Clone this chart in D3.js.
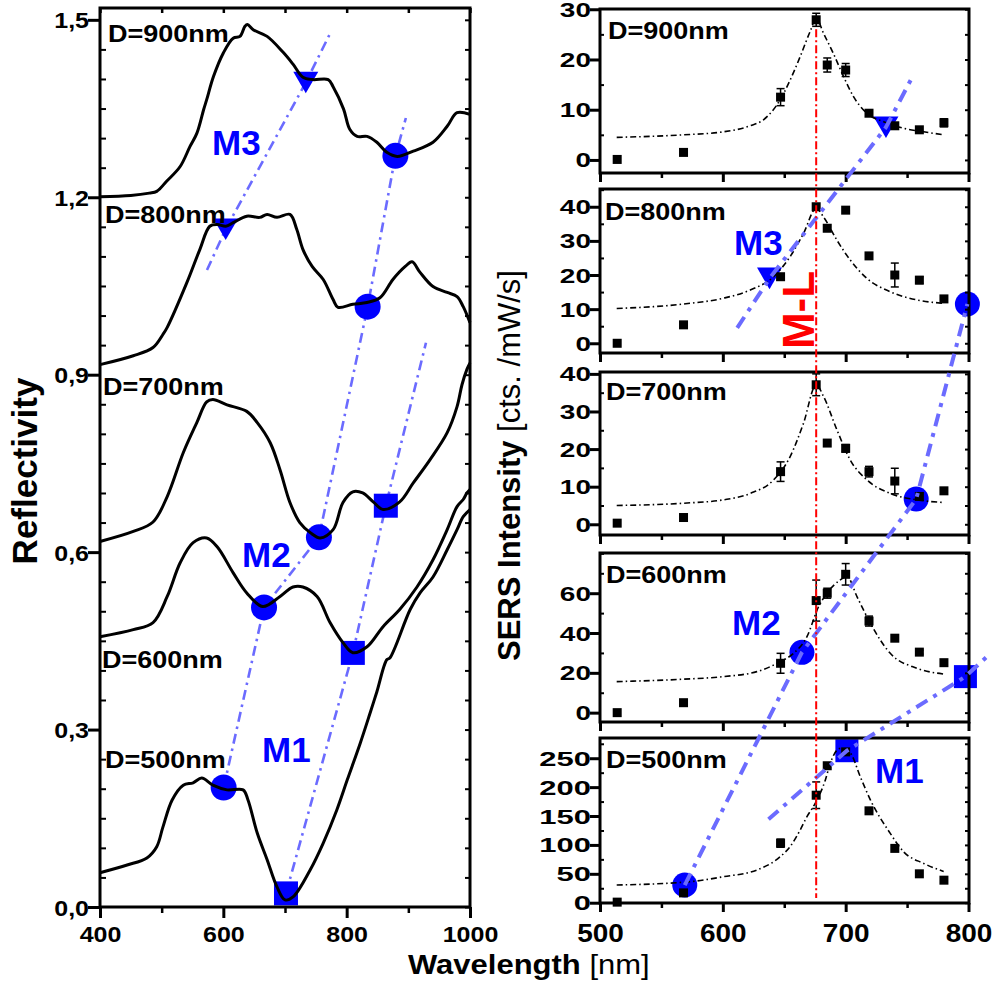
<!DOCTYPE html>
<html>
<head>
<meta charset="utf-8">
<script src="https://cdn.jsdelivr.net/npm/d3@7"></script>
<style>
body { margin: 0; background: #fff; }
svg { display: block; }
text { font-family: "Liberation Sans", Arial, sans-serif; font-weight: bold; }
</style>
</head>
<body>
<div id="chart"></div>
<script>
// ---- data: reflectivity spectra (left) ----
const refl900 = [[400,1.201],[450,1.203],[480,1.207],[492,1.210],[508,1.227],[530,1.252],[546,1.286],[557,1.308],[568,1.348],[573,1.365],[584,1.404],[600,1.444],[616,1.469],[627,1.472],[635,1.489],[639,1.492],[649,1.483],[671,1.472],[697,1.445],[713,1.425],[729,1.403],[745,1.399],[770,1.399],[778,1.387],[795,1.349],[805,1.315],[817,1.303],[833,1.303],[849,1.293],[865,1.276],[882,1.269],[908,1.278],[940,1.293],[963,1.320],[979,1.343],[1000,1.340]];
const refl800 = [[400,0.917],[454,0.932],[486,0.946],[502,0.968],[509,0.980],[541,1.056],[562,1.112],[578,1.151],[590,1.154],[604,1.151],[616,1.157],[638,1.168],[659,1.166],[671,1.171],[687,1.166],[708,1.171],[719,1.146],[729,1.112],[744,1.083],[762,1.061],[778,1.027],[786,1.014],[810,1.019],[833,1.022],[854,1.030],[875,1.061],[895,1.083],[906,1.091],[919,1.073],[940,1.049],[963,1.039],[979,1.032],[989,1.015],[1000,0.988]];
const refl700 = [[400,0.618],[454,0.635],[486,0.651],[509,0.694],[535,0.768],[557,0.819],[573,0.854],[583,0.858],[606,0.849],[638,0.838],[655,0.819],[676,0.785],[692,0.739],[708,0.684],[724,0.650],[741,0.633],[757,0.624],[778,0.638],[794,0.684],[810,0.702],[826,0.700],[843,0.685],[859,0.672],[886,0.685],[908,0.717],[935,0.756],[963,0.802],[979,0.846],[987,0.883],[995,0.909],[1000,0.920]];
const refl600 = [[400,0.457],[454,0.469],[486,0.481],[509,0.525],[530,0.582],[551,0.616],[573,0.624],[590,0.609],[616,0.565],[638,0.531],[664,0.508],[692,0.525],[713,0.541],[729,0.541],[752,0.525],[773,0.481],[794,0.447],[810,0.430],[833,0.440],[859,0.474],[886,0.503],[914,0.541],[940,0.587],[963,0.638],[979,0.677],[989,0.689],[995,0.700],[1000,0.706]];
const refl500 = [[400,0.058],[444,0.071],[476,0.083],[492,0.102],[502,0.135],[517,0.181],[535,0.206],[551,0.210],[565,0.218],[583,0.206],[606,0.198],[632,0.198],[640,0.181],[655,0.125],[671,0.080],[687,0.034],[700,0.012],[713,0.017],[741,0.063],[762,0.108],[784,0.164],[801,0.215],[822,0.277],[838,0.328],[849,0.364],[865,0.418],[870,0.421],[903,0.503],[919,0.531],[940,0.558],[963,0.604],[979,0.638],[989,0.660],[1000,0.672]];
const reflSeries = [refl900, refl800, refl700, refl600, refl500];
const dLabels = ["D=900nm", "D=800nm", "D=700nm", "D=600nm", "D=500nm"];

const xTicksL = [400, 600, 800, 1000];
const xTickLabelsL = ["400", "600", "800", "1000"];
const yTicksL = [0, 0.3, 0.6, 0.9, 1.2, 1.5];
const yTickLabelsL = ["0,0", "0,3", "0,6", "0,9", "1,2", "1,5"];

// mode markers on the reflectivity curves [wavelength, R]
const circL = [[600.5,0.202],[666,0.5065],[755,0.625],[834,1.015],[879,1.270]];
const sqL = [[701.6,0.023],[810,0.4296],[863.5,0.6785]];
const triL = [[603.8,1.146],[733.7,1.394]];
const m1L = [[701.6,0.023],[810,0.4296],[863.5,0.6785],[928.6,0.954]];
const m2L = [[600.5,0.202],[666,0.5065],[755,0.625],[834,1.015],[879,1.270],[896,1.334]];
const m3L = [[573.5,1.077],[603.8,1.146],[733.7,1.394],[774.6,1.480]];

// ---- data: SERS intensity (right), panels top to bottom ----
const ramanWl = [514, 568, 647, 676, 685, 700, 719, 740, 760, 780];
const sers900 = [0.1, 1.5, 12.5, 27.9, 18.9, 17.9, 9.3, 6.8, 6.0, 7.4];
const err900  = [0, 0, 1.7, 1.3, 1.4, 1.3, 0, 0, 0, 0.8];
const sers800 = [0, 5.4, 19.5, 40, 33.7, 39, 25.6, 20, 18.5, 13];
const err800  = [0, 0, 0, 0, 0, 0, 0, 3.5, 1, 0];
const sers700 = [0.3, 1.8, 14, 37.1, 21.6, 20.2, 14, 11.5, 7.4, 8.9];
const err700  = [0, 0, 2.6, 2.9, 0, 1, 1.4, 3.4, 0, 0];
const sers600 = [0, 5.0, 24.8, 56.3, 60, 69.5, 46, 37.4, 30.4, 25.1];
const err600  = [0, 0, 5, 10.3, 2.5, 5.4, 2.5, 0, 1, 0];
const sers500 = [1, 17, 103, 186, 237, 261, 159, 94, 50, 39];
const err500  = [0, 0, 7, 23, 0, 5, 0, 0, 0, 0];

const fit900 = [[513.6,4.5],[567.9,5.0],[600.5,5.6],[622.3,6.8],[633.1,8.0],[646.7,12.0],[654.8,15.9],[663,20.6],[671.1,25.6],[676,28.2],[682,25.2],[690,21.2],[698.3,16.6],[706.4,12.6],[717.3,9.3],[731,7.6],[747.2,6.3],[763.5,5.6],[779.8,5.0]];
const fit800 = [[513.6,10.2],[567.9,11.5],[600.5,13.2],[622.3,15.6],[641.3,19.5],[654.8,25.4],[665.7,32.2],[676,39.5],[682,37],[692.9,30.2],[703.7,24.4],[717.3,19],[736.3,15.1],[758.1,12.7],[779.8,11.7]];
const fit700 = [[513.6,5.0],[567.9,5.6],[600.5,6.5],[622.3,8.2],[641.3,11.8],[654.8,18],[665.7,26.9],[676,37.1],[682,34],[692.9,25.1],[703.7,17.1],[717.3,11.8],[736.3,8.2],[758.1,6.5],[779.8,5.8]];
const fit600 = [[513.6,15.6],[567.9,16.8],[600.5,18.1],[627.7,20.6],[646.7,25.6],[657.6,29.8],[668.5,38.2],[678,53.3],[684.8,60],[695.6,66.7],[701.1,68.4],[709.2,58.3],[720.1,44.9],[736.3,29.8],[758.1,22.3],[779.8,19.4]];
const fit500 = [[513.6,30.6],[573.3,36.4],[600.5,45],[627.7,56.6],[646.7,79.6],[654.8,97],[663,126],[668.5,149],[675.2,172],[683.4,212],[687.4,241],[695.6,267],[703.7,259],[711.9,218],[720.1,178],[736.3,120],[747.2,88],[763.5,68],[779.8,54]];

const sersVals = [sers900, sers800, sers700, sers600, sers500];
const sersErrs = [err900, err800, err700, err600, err500];
const sersFits = [fit900, fit800, fit700, fit600, fit500];
const sersTicks = [[0,10,20,30],[0,10,20,30,40],[0,10,20,30,40],[0,20,40,60],[0,50,100,150,200,250]];
const sersMinorStep = [5, 5, 5, 10, 25];
const xTicksR = [500, 600, 700, 800];
const xMinorR = [550, 650, 750];

// markers in the SERS panels [wavelength, panel, value]
const circR = [[569,4,30.6],[664.4,3,30.3],[757.4,2,6.7],[799.1,1,11.5]];
const sqR = [[701,4,263],[797.5,3,18.1]];
const triR = [[638,1,19.0],[732.8,0,6.5]];
const m1R = [[637.2,4,144.4],[701,4,263],[797.5,3,18.1],[816.5,3,29]];
const m2R = [[569,4,30.6],[664.4,3,30.3],[757.4,2,6.7],[799.1,1,11.5]];
const m3R = [[611.7,1,4.5],[638,1,19.0],[732.8,0,6.5],[755.1,0,16.9]];
const mlWl = 676;
const mlRange = [[0, 26], [4, 8]];

// ---- layout ----
const svg = d3.select("#chart").append("svg").attr("width", 992).attr("height", 989);
const BLUE = "#0000ff", LBLUE = "#6b6bff", RED = "#ff0000";

const xL = d3.scaleLinear().domain([400, 1000]).range([100, 470]);
const yL = d3.scaleLinear().domain([0, 1.52]).range([907, 8]);
const xR = d3.scaleLinear().domain([500, 800]).range([600, 968.5]);

const panels = [
  {top: 9,   bottom: 173, dom: [-2.6, 30.05], fs: 28, sy: 0.7},
  {top: 189, bottom: 353, dom: [-2.85, 45.2], fs: 28, sy: 0.7},
  {top: 372, bottom: 535, dom: [-2.85, 40.5], fs: 28, sy: 0.7},
  {top: 553, bottom: 722, dom: [-4.7, 80.2],  fs: 28, sy: 0.7},
  {top: 738, bottom: 903, dom: [-0.5, 285],   fs: 31, sy: 0.63}
];
panels.forEach(p => p.y = d3.scaleLinear().domain(p.dom).range([p.bottom, p.top]));

function frame(g, x0, y0, x1, y1) {
  g.append("rect").attr("x", x0).attr("y", y0)
    .attr("width", x1 - x0).attr("height", y1 - y0)
    .attr("fill", "none").attr("stroke", "#000").attr("stroke-width", 3);
}

function axis(g, t, ax, w) {
  const a = g.append("g").attr("transform", t).call(ax);
  a.select(".domain").remove();
  a.selectAll(".tick line").attr("stroke", "#000").attr("stroke-width", w);
  return a;
}

function txt(g, x, y, s, fs, sy, anchor) {
  return g.append("text")
    .attr("transform", `translate(${x},${y}) scale(1,${sy})`)
    .attr("font-size", fs).attr("text-anchor", anchor || "start").text(s);
}

function minorVals(dom, step, majors) {
  return d3.range(Math.ceil(dom[0] / step) * step, dom[1] + 1e-9, step)
    .filter(v => !majors.some(m => Math.abs(m - v) < 1e-9));
}

// ===== left panel =====
const gL = svg.append("g");

axis(gL, "translate(0,907)", d3.axisBottom(xL).tickValues(xTicksL).tickSize(11)
    .tickFormat((d, i) => xTickLabelsL[i]), 3)
  .selectAll("text").attr("font-size", 25).attr("dy", 0)
  .attr("y", 35 / 0.9).attr("transform", "scale(1,0.9)");
axis(gL, "translate(0,907)", d3.axisBottom(xL).tickValues([500, 700, 900]).tickSize(6).tickFormat(""), 2.5);
axis(gL, "translate(0,8)", d3.axisTop(xL).tickValues(xTicksL.concat([500, 700, 900])).tickSize(-5).tickFormat(""), 2.5);

axis(gL, "translate(100,0)", d3.axisLeft(yL).tickValues(yTicksL).tickSize(12)
    .tickFormat((d, i) => yTickLabelsL[i]), 3)
  .selectAll("text").attr("font-size", 25).attr("x", -11).attr("dy", "0.36em")
  .attr("transform", "scale(1,0.9)");
axis(gL, "translate(100,0)", d3.axisLeft(yL).tickValues(minorVals([0, 1.52], 0.05, yTicksL)).tickSize(-6).tickFormat(""), 2);
axis(gL, "translate(470,0)", d3.axisRight(yL).tickValues(yTicksL.concat(minorVals([0, 1.52], 0.05, yTicksL))).tickSize(-5).tickFormat(""), 2);

// guide lines for the modes
const lineL = d3.line().x(d => xL(d[0])).y(d => yL(d[1]));
[m1L, m2L, m3L].forEach(m => {
  gL.append("path").attr("d", lineL(m)).attr("fill", "none")
    .attr("stroke", LBLUE).attr("stroke-width", 2.6)
    .attr("stroke-dasharray", "10,5,2.5,5");
});

// markers
const triSize = 270;
const triOff = Math.sqrt(triSize / (3 * Math.sqrt(3))) / 2;
gL.selectAll("circle.mk").data(circL).enter().append("circle")
  .attr("cx", d => xL(d[0])).attr("cy", d => yL(d[1])).attr("r", 13).attr("fill", BLUE);
gL.selectAll("rect.mk").data(sqL).enter().append("rect")
  .attr("x", d => xL(d[0]) - 12).attr("y", d => yL(d[1]) - 12)
  .attr("width", 24).attr("height", 24).attr("fill", BLUE);
gL.selectAll("path.tri").data(triL).enter().append("path")
  .attr("d", d3.symbol(d3.symbolTriangle, triSize))
  .attr("transform", d => `translate(${xL(d[0])},${yL(d[1]) - triOff}) rotate(180)`)
  .attr("fill", BLUE);

// spectra
const specLine = d3.line().x(d => xL(d[0])).y(d => yL(d[1])).curve(d3.curveCatmullRom);
reflSeries.forEach(s => {
  gL.append("path").attr("d", specLine(s)).attr("fill", "none")
    .attr("stroke", "#000").attr("stroke-width", 3).attr("stroke-linejoin", "round");
});

frame(gL, 100, 8, 470, 907);

const dPosL = [[108, 42], [105, 223], [103, 395], [102, 668], [105, 768]];
dLabels.forEach((s, i) => txt(gL, dPosL[i][0], dPosL[i][1], s, 27, 0.88));

const mPosL = [["M3", 212, 155], ["M2", 242, 567], ["M1", 262, 762]];
mPosL.forEach(m => txt(gL, m[1], m[2], m[0], 35, 1).attr("fill", BLUE));

gL.append("text").attr("transform", "translate(37,471) rotate(-90)")
  .attr("text-anchor", "middle").attr("font-size", 35).text("Reflectivity");

// ===== right panels =====
const gR = svg.append("g");
const pt = d => [xR(d[0]), panels[d[1]].y(d[2])];

// blue markers below the data
gR.selectAll("circle.mk").data(circR).enter().append("circle")
  .attr("cx", d => pt(d)[0]).attr("cy", d => pt(d)[1]).attr("r", 12.5).attr("fill", BLUE);
gR.selectAll("rect.mk").data(sqR).enter().append("rect")
  .attr("x", d => pt(d)[0] - 11.5).attr("y", d => pt(d)[1] - 11.5)
  .attr("width", 23).attr("height", 23).attr("fill", BLUE);
gR.selectAll("path.tri").data(triR).enter().append("path")
  .attr("d", d3.symbol(d3.symbolTriangle, triSize))
  .attr("transform", d => `translate(${pt(d)[0]},${pt(d)[1] - triOff}) rotate(180)`)
  .attr("fill", BLUE);

panels.forEach((p, i) => {
  const g = gR.append("g");
  const y = p.y;
  const ticks = sersTicks[i];

  const lab = axis(g, "translate(600,0)", d3.axisLeft(y).tickValues(ticks).tickSize(10), 3);
  lab.selectAll("text").attr("font-size", p.fs).attr("x", -9).attr("dy", "0.36em")
    .attr("transform", `scale(1,${p.sy})`);
  axis(g, "translate(600,0)", d3.axisLeft(y).tickValues(minorVals(p.dom, sersMinorStep[i], ticks)).tickSize(-4).tickFormat(""), 2);
  axis(g, "translate(969,0)", d3.axisRight(y).tickValues(ticks.concat(minorVals(p.dom, sersMinorStep[i], ticks))).tickSize(-4).tickFormat(""), 2);

  const bx = axis(g, `translate(0,${p.bottom})`, d3.axisBottom(xR).tickValues(xTicksR).tickSize(9)
    .tickFormat(i === 4 ? d3.format("d") : ""), 3);
  if (i === 4) {
    bx.selectAll("text").attr("font-size", 28).attr("dy", 0)
      .attr("y", 39 / 0.9).attr("transform", "scale(1,0.9)");
  }
  axis(g, `translate(0,${p.bottom})`, d3.axisBottom(xR).tickValues(xMinorR).tickSize(5).tickFormat(""), 2.5);

  // fit curve
  g.append("path")
    .attr("d", d3.line().x(d => xR(d[0])).y(d => y(d[1])).curve(d3.curveMonotoneX)(sersFits[i]))
    .attr("fill", "none").attr("stroke", "#000").attr("stroke-width", 1.6)
    .attr("stroke-dasharray", "6,3,1.5,3");

  // data with error bars
  const pts = ramanWl.map((w, k) => ({w, v: sersVals[i][k], e: sersErrs[i][k]}));
  const eb = g.selectAll("g.eb").data(pts.filter(d => d.e > 0)).enter().append("g")
    .attr("stroke", "#000").attr("stroke-width", 1.5);
  eb.append("line").attr("x1", d => xR(d.w)).attr("x2", d => xR(d.w))
    .attr("y1", d => y(d.v - d.e)).attr("y2", d => y(d.v + d.e));
  eb.append("line").attr("x1", d => xR(d.w) - 4).attr("x2", d => xR(d.w) + 4)
    .attr("y1", d => y(d.v + d.e)).attr("y2", d => y(d.v + d.e));
  eb.append("line").attr("x1", d => xR(d.w) - 4).attr("x2", d => xR(d.w) + 4)
    .attr("y1", d => y(d.v - d.e)).attr("y2", d => y(d.v - d.e));
  g.selectAll("rect.pt").data(pts).enter().append("rect")
    .attr("x", d => xR(d.w) - 4.5).attr("y", d => y(d.v) - 4.5)
    .attr("width", 9).attr("height", 9).attr("fill", "#000");

  frame(g, 600, p.top, 969, p.bottom);
});

// guide lines across panels
[m1R, m2R, m3R].forEach(m => {
  gR.append("path").attr("d", d3.line()(m.map(pt))).attr("fill", "none")
    .attr("stroke", LBLUE).attr("stroke-width", 4)
    .attr("stroke-dasharray", "13,7,4,7");
});

// M-L line
gR.append("line")
  .attr("x1", xR(mlWl)).attr("x2", xR(mlWl))
  .attr("y1", panels[mlRange[0][0]].y(mlRange[0][1]))
  .attr("y2", panels[mlRange[1][0]].y(mlRange[1][1]))
  .attr("stroke", RED).attr("stroke-width", 2).attr("stroke-dasharray", "8,3,2,3");
gR.append("text").attr("transform", `translate(${xR(mlWl) - 2},310) rotate(-90)`)
  .attr("text-anchor", "middle").attr("font-size", 44).attr("fill", RED).text("M-L");

const dPosR = [[608, 39], [605, 220], [606, 400], [606, 583], [606, 768]];
dLabels.forEach((s, i) => txt(gR, dPosR[i][0], dPosR[i][1], s, 27, 0.92));

const mPosR = [["M3", 734, 255], ["M2", 732, 635], ["M1", 875, 783]];
mPosR.forEach(m => txt(gR, m[1], m[2], m[0], 35, 1).attr("fill", BLUE));

const yt = gR.append("text").attr("transform", "translate(520,661) rotate(-90)")
  .attr("font-size", 31);
yt.append("tspan").text("SERS Intensity ");
yt.append("tspan").attr("font-weight", "normal").text("[cts. /mW/s]");

// shared x title
const xt = svg.append("text").attr("transform", "translate(408,974) scale(1,0.9)")
  .attr("font-size", 31);
xt.append("tspan").text("Wavelength ");
xt.append("tspan").attr("font-weight", "normal").text("[nm]");
</script>
</body>
</html>
